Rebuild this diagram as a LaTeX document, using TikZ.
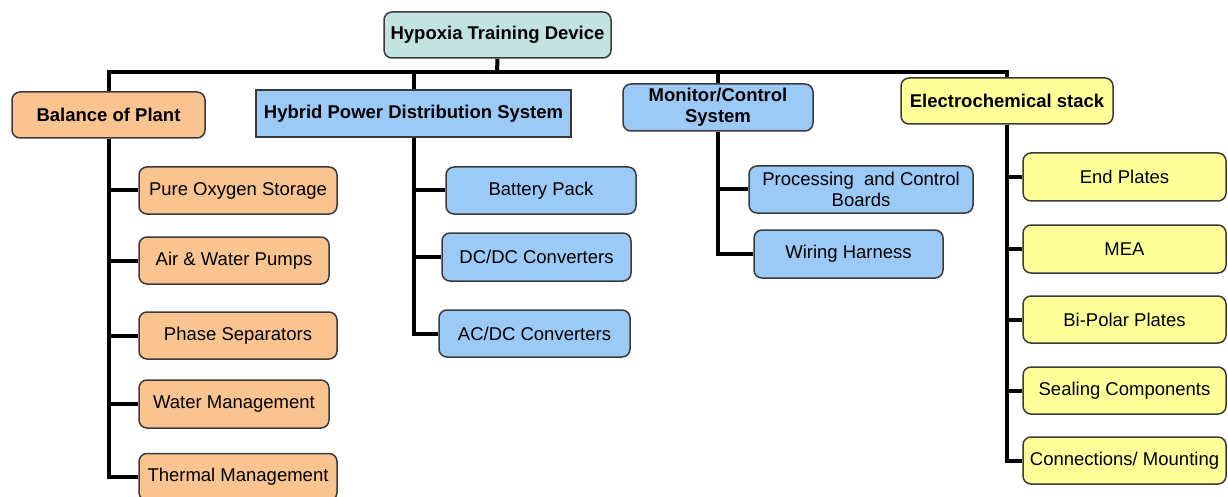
\documentclass[tikz,border=0pt]{standalone}
\usepackage{fontspec}
\setmainfont{Liberation Sans}
\usetikzlibrary{calc}

\definecolor{rootc}{HTML}{C2E3E0}
\definecolor{plantc}{HTML}{FAC490}
\definecolor{powerc}{HTML}{9CCAF7}
\definecolor{stackc}{HTML}{FFFF99}
\definecolor{rimc}{HTML}{3A3A3A}
\tikzset{
  box/.style={draw=rimc,line width=1.5pt,rounded corners=8pt,align=center,
    inner sep=2pt,font=\fontsize{18.5}{21}\selectfont},
  head/.style={box,font=\fontsize{18.5}{21}\selectfont\bfseries},
  conn/.style={line width=4pt,line join=miter},
}

\begin{document}
\begin{tikzpicture}[x=1pt,y=-1pt,
      rootbox/.style={head,fill=rootc},
      plant/.style={box,fill=plantc},
      power/.style={box,fill=powerc},
      stack/.style={box,fill=stackc},
      ]
      \useasboundingbox (0,0) rectangle (1228,497);
      % top level
      \node [rootbox,minimum width=227pt,minimum height=46pt] (root) at (497.5,35) {Hypoxia Training Device};
      \coordinate (bus) at (497,72);
      % sub systems
      \node [plant,head,minimum width=193pt,minimum height=46pt] (bop) at (108.5,115) {Balance of Plant};
      \node [power,head,sharp corners,minimum width=315pt,minimum height=47pt] (hpds) at (413.5,113.5) {Hybrid Power Distribution System};
      \node [power,head,minimum width=190pt,minimum height=47pt] (mcs) at (718,107.5) {Monitor/Control\\System};
      \node [stack,head,minimum width=212pt,minimum height=46pt] (ecs) at (1007,101) {Electrochemical stack};
      % balance of plant
      \node [plant,minimum width=198pt,minimum height=47pt] (pos) at (238,190.5) {Pure Oxygen Storage};
      \node [plant,minimum width=190pt,minimum height=47pt] (awp) at (234,260.5) {Air \& Water Pumps};
      \node [plant,minimum width=198pt,minimum height=47pt] (ps) at (238,335.5) {Phase Separators};
      \node [plant,minimum width=190pt,minimum height=48pt] (wm) at (234,404) {Water Management};
      \node [plant,minimum width=198pt,minimum height=47pt] (tm) at (238,477) {Thermal Management};
      % power distribution
      \node [power,minimum width=190pt,minimum height=47pt] (bp) at (541,190.5) {Battery Pack};
      \node [power,minimum width=189pt,minimum height=48pt] (dcdc) at (536.5,257) {DC/DC Converters};
      \node [power,minimum width=191pt,minimum height=47pt] (acdc) at (534.5,333.5) {AC/DC Converters};
      % monitor and control
      \node [power,minimum width=224pt,minimum height=47pt] (pcb) at (861,189.5) {Processing\ \ and Control\\Boards};
      \node [power,minimum width=189pt,minimum height=48pt] (wh) at (848.5,254) {Wiring Harness};
      % stack
      \node [stack,minimum width=203pt,minimum height=48pt] (ep) at (1124.5,177) {End Plates};
      \node [stack,minimum width=203pt,minimum height=48pt] (mea) at (1124.5,249) {MEA};
      \node [stack,minimum width=203pt,minimum height=47pt] (bpp) at (1124.5,319.5) {Bi-Polar Plates};
      \node [stack,minimum width=203pt,minimum height=47pt] (sc) at (1124.5,390.5) {Sealing Components};
      \node [stack,minimum width=203pt,minimum height=47pt] (cm) at (1124.5,460.5) {Connections/ Mounting};

      \draw [conn] (root.south) -- (bus);
      \draw [conn] (bop.north) -- (bop.north |- bus) -- (ecs.north |- bus) -- (ecs.north);
      \draw [conn] (hpds.north) -- (hpds.north |- bus);
      \draw [conn] (mcs.north) -- (mcs.north |- bus);
      \foreach \c in {pos,awp,ps,wm,tm} \draw [conn] (bop.south) |- (\c.west);
      \foreach \c in {bp,dcdc,acdc} \draw [conn] (hpds.south) |- (\c.west);
      \foreach \c in {pcb,wh} \draw [conn] (mcs.south) |- (\c.west);
      \foreach \c in {ep,mea,bpp,sc,cm} \draw [conn] (ecs.south) |- (\c.west);
    \end{tikzpicture}
\end{document}
